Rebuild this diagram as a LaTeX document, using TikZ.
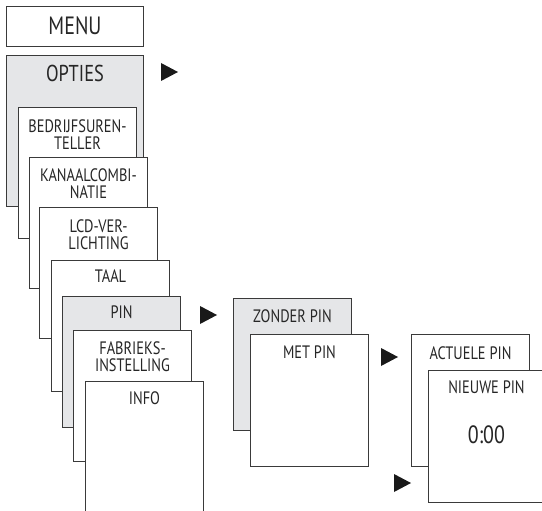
\documentclass[tikz,border=0pt]{standalone}
\usepackage{fontspec}
\setmainfont{PT Sans}[FakeStretch=0.8]
\usetikzlibrary{positioning}

\definecolor{menugrijs}{RGB}{229,230,232}
\definecolor{lijngrijs}{RGB}{58,58,58}

\tikzset{
	kader/.style = {draw = lijngrijs, line width = 1pt, fill = white, anchor = north west, inner sep = 0pt, minimum width = 118pt, minimum height = 131pt},
	grijs/.style = {fill = menugrijs},
	tekst/.style = {anchor = north, inner sep = 0pt, align = center, text = black!85, font = \fontsize{18}{17}\selectfont},
	pijl/.style = {fill = black!90}
}

\begin{document}
\begin{tikzpicture}[x = 1pt, y = -1pt]
				%	canvas
				\useasboundingbox (0, 0) rectangle (542, 511);
				\clip (0, 0) rectangle (542, 511);
				
				%	menu
				\node[kader, minimum width = 137pt, minimum height = 40pt] (menu) at (6, 6) {};
				\node[tekst, font = \fontsize{25}{25}\selectfont, below = 11pt of menu.north] (menutekst) {MENU};
				
				%	opties stapel
				\node[kader, grijs, minimum width = 137pt, minimum height = 151pt] (opties) at (6, 55) {};
				\node[tekst, font = \fontsize{23}{23}\selectfont, below = 10pt of opties.north] (optiestekst) {OPTIES};
				
				\node[kader] (bedrijf) at (18, 107) {};
				\node[tekst, below = 12pt of bedrijf.north] (bedrijftekst) {BEDRIJFSUREN-\\TELLER};
				
				\node[kader] (kanaal) at (29, 157) {};
				\node[tekst, below = 11pt of kanaal.north] (kanaaltekst) {KANAALCOMBI-\\NATIE};
				
				\node[kader] (lcd) at (39, 207) {};
				\node[tekst, below = 12pt of lcd.north] (lcdtekst) {LCD-VER-\\LICHTING};
				
				\node[kader] (taal) at (51, 260) {};
				\node[tekst, below = 10pt of taal.north] (taaltekst) {TAAL};
				
				\node[kader, grijs] (pin) at (62, 296) {};
				\node[tekst, below = 10pt of pin.north] (pintekst) {PIN};
				
				\node[kader] (fabriek) at (73, 330) {};
				\node[tekst, below = 11pt of fabriek.north] (fabriektekst) {FABRIEKS-\\INSTELLING};
				
				\node[kader, minimum height = 160pt] (info) at (85, 381) {};
				\node[tekst, below = 10pt of info.north] (infotekst) {INFO};
				
				%	pin submenu
				\node[kader, grijs, minimum height = 132pt] (zonder) at (233, 298) {};
				\node[tekst, below = 11pt of zonder.north] (zondertekst) {ZONDER PIN};
				
				\node[kader, minimum height = 132pt] (metpin) at (250, 334) {};
				\node[tekst, below = 12pt of metpin.north] (metpintekst) {MET PIN};
				
				\node[kader, minimum height = 132pt] (actueel) at (411, 334) {};
				\node[tekst, below = 12pt of actueel.north] (actueeltekst) {ACTUELE PIN};
				
				\node[kader, minimum width = 130pt, minimum height = 132pt] (nieuw) at (428, 370) {};
				\node[tekst, below = 11pt of nieuw.north, xshift = -7pt] (nieuwtekst) {NIEUWE PIN};
				\node[tekst, font = \fontsize{25}{25}\selectfont, below = 55pt of nieuw.north, xshift = -7pt] (tijd) {0:00};
				
				%	pijlen
				\def\pw{17}
				\def\ph{9}
				\fill[pijl] (161, 72) ++(0, -\ph) -- ++(\pw, \ph) -- ++(-\pw, \ph) -- cycle;
				\fill[pijl] (200, 315) ++(0, -\ph) -- ++(\pw, \ph) -- ++(-\pw, \ph) -- cycle;
				\fill[pijl] (381, 357) ++(0, -\ph) -- ++(\pw, \ph) -- ++(-\pw, \ph) -- cycle;
				\fill[pijl] (394, 483) ++(0, -\ph) -- ++(\pw, \ph) -- ++(-\pw, \ph) -- cycle;
\end{tikzpicture}
\end{document}
